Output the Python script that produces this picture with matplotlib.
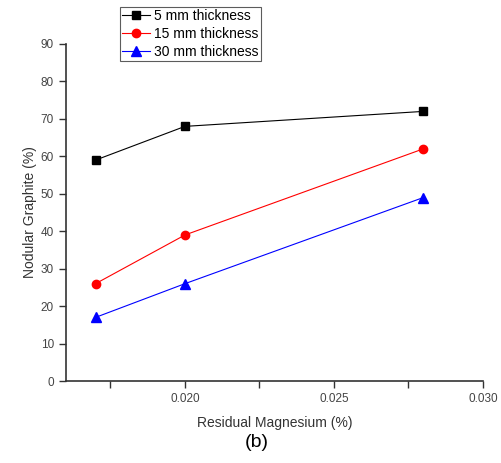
import matplotlib
matplotlib.use("Agg")
import matplotlib.pyplot as plt
from matplotlib.ticker import MultipleLocator

plt.rcParams['font.family'] = ['Liberation Sans', 'DejaVu Sans']

mg = [0.017, 0.020, 0.028]
s5 = [59, 68, 72]
s15 = [26, 39, 62]
s30 = [17, 26, 49]
labels = ['5 mm thickness', '15 mm thickness', '30 mm thickness']

fig = plt.figure(figsize=(5.02, 4.63), dpi=100)
ax = fig.add_axes([0.131, 0.177, 0.831, 0.728])

ax.plot(mg, s5, color='black', marker='s', markersize=6, lw=0.8, label=labels[0])
ax.plot(mg, s15, color='red', marker='o', markersize=6, lw=0.8, label=labels[1])
ax.plot(mg, s30, color='blue', marker='^', markersize=7, lw=0.8, label=labels[2])

ax.set_xlim(0.016, 0.030)
ax.set_ylim(0, 90)
ax.xaxis.set_minor_locator(MultipleLocator(0.0025))
ax.yaxis.set_major_locator(MultipleLocator(10))
ax.set_xticks([0.020, 0.025, 0.030])
ax.set_xticklabels(['0.020', '0.025', '0.030'])
for s in ['top', 'right']:
    ax.spines[s].set_visible(False)
for s in ['left', 'bottom']:
    ax.spines[s].set_linewidth(1.2)
    ax.spines[s].set_color('#333333')
ax.tick_params(axis='both', which='major', direction='out', length=5, width=1, colors='#333333', labelsize=8.5, labelcolor='#444444')
ax.tick_params(axis='x', which='minor', direction='out', length=5, width=1, colors='#333333')
ax.set_xlabel('Residual Magnesium (%)', fontsize=10, color='#333333', labelpad=8)
ax.set_ylabel('Nodular Graphite (%)', fontsize=10, color='#333333', labelpad=3)

leg = ax.legend(loc='upper left', bbox_to_anchor=(0.13, 1.11), fontsize=10, frameon=True,
                fancybox=False, edgecolor='#333333', borderpad=0.15, labelspacing=0.3,
                handlelength=2.0, handletextpad=0.3, borderaxespad=0)
leg.get_frame().set_linewidth(0.8)

fig.text(0.512, 0.025, '(b)', fontsize=14, ha='center', va='bottom', color='black')

fig.savefig('out.png', dpi=100)
